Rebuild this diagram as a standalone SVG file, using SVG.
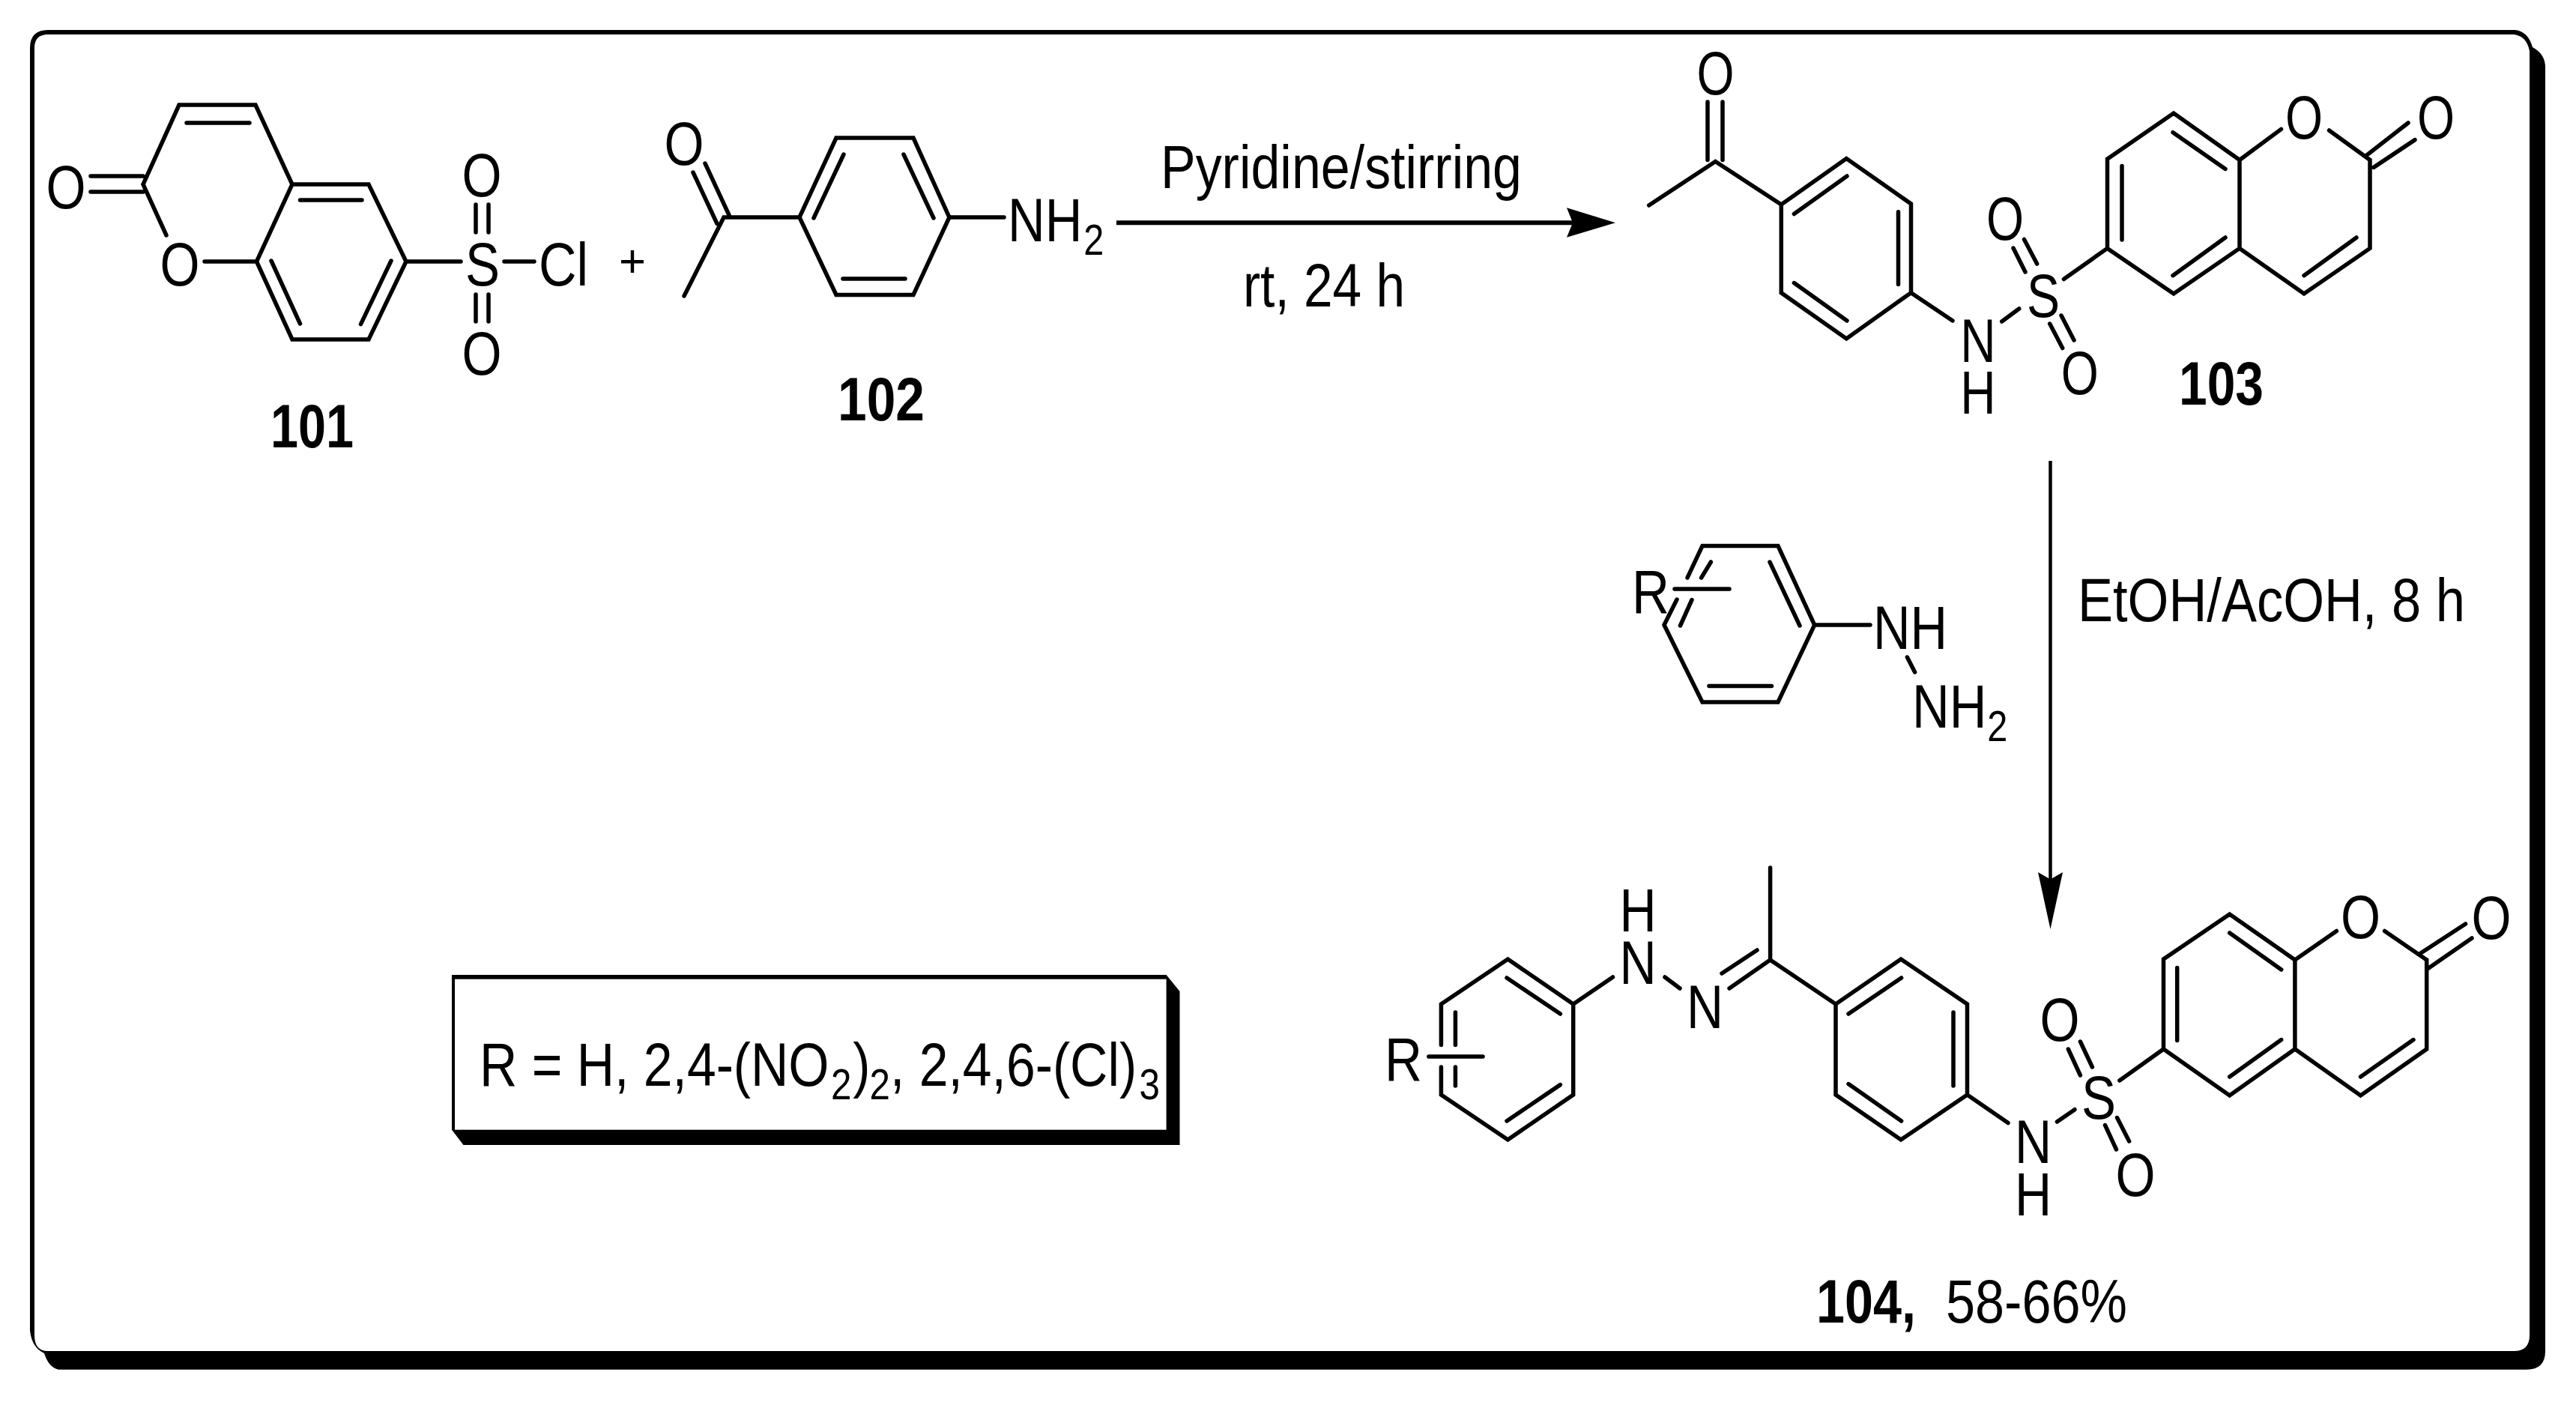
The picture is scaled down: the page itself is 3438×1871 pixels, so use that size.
<svg xmlns="http://www.w3.org/2000/svg" width="3438" height="1871" viewBox="0 0 3438 1871">
<style>
text{font-family:"Liberation Sans",Arial,sans-serif;font-size:82px;fill:#000}
.m{text-anchor:middle}
.bd{font-weight:700}
.sub{font-size:58px}
.plus{font-size:62px}
.b{fill:none;stroke:#000;stroke-width:5.5;stroke-linecap:round;stroke-linejoin:miter}
.ln{fill:none;stroke:#000;stroke-width:6}
.f{fill:#000;stroke:none}
</style>
<rect width="3438" height="1871" fill="#fff"/>
<g id="frame">
<path class="f" d="M64,40H3357Q3374,42 3380,63Q3397,72 3397,90V1803Q3397,1827.7 3372,1827.7H78Q65,1825 59,1806Q42,1798 40,1775V64Q40,40 64,40Z"/>
<path fill="#fff" d="M64,46H3355Q3372,48 3376,68V1782Q3376,1803 3355,1803H64Q46,1803 46,1782V64Q46,46 64,46Z"/>
</g>
<g id="compound-101">
<path class="b" d="M273,349H342.5L390,246L341,140H239L191,246L222,314M390,246H492L542,349L492,453H390L342.5,349M249,164H333M400.5,267H483M362,348L400.5,432M522,348L481.5,432.6M121,235H191M121,256H191M542,349H615M673,349H713M635,273V310M652,273V310M635,393V429M652,393V429"/>
<text class="m" x="88" y="278" textLength="53" lengthAdjust="spacingAndGlyphs">O</text>
<text class="m" x="240" y="381" textLength="53" lengthAdjust="spacingAndGlyphs">O</text>
<text class="m" x="644" y="381" textLength="46" lengthAdjust="spacingAndGlyphs">S</text>
<text class="m" x="643" y="262" textLength="53" lengthAdjust="spacingAndGlyphs">O</text>
<text class="m" x="643" y="500" textLength="53" lengthAdjust="spacingAndGlyphs">O</text>
<text x="719" y="381" textLength="66" lengthAdjust="spacingAndGlyphs">Cl</text>
<text class="bd" x="361" y="597" textLength="111" lengthAdjust="spacingAndGlyphs">101</text>
</g>
<g id="plus"><text class="plus m" x="844" y="369" textLength="36" lengthAdjust="spacingAndGlyphs">+</text></g>
<g id="compound-102">
<path class="b" d="M925,230L957,298.5M941,218L973,287M913,395L966,290H1067L1116,184H1219L1267,290L1219,393.4H1116L1067,290M1126,206L1086,291M1206,206L1246,291M1125,372H1208M1267,290H1340"/>
<text class="m" x="913" y="220" textLength="53" lengthAdjust="spacingAndGlyphs">O</text>
<text transform="translate(1345,322) scale(.84,1)">NH<tspan class="sub" dx="2" dy="18">2</tspan></text>
<text class="bd" x="1118" y="561" textLength="116" lengthAdjust="spacingAndGlyphs">102</text>
</g>
<g id="compound-103">
<path class="b" d="M2279,136V213.5M2299,136V213.5M2200.7,274L2289.4,215.5L2377.3,273L2464.3,211.5L2550.5,272V390.7L2464.3,452L2377.3,390.7V273M2394.4,285.5L2465,235M2533.5,282.7V379.6M2394.4,377.6L2465,428M2550.5,390.7L2606,428M2671.7,429L2694.7,412M2701.5,319.5L2718.6,352M2687,331L2703,363M2751,421L2768,454M2735.7,432L2752.7,464.6M2754.4,372.5L2812.5,331.4V212.3L2901,151L2989,213.5V331.4L2901,392L2812.5,331.4M2832,221.4V320M2900,176.7L2970,225.4M2970,317L2900,367.7M2989,213.5L3044.5,172.4M3108.5,174L3163,213.5V331.4L3075,392L2989,331.4M3145,317L3075,367.7M3158,207.6L3214,164M3168,223.4L3223,186.6"/>
<text class="m" x="2289.4" y="125.5" textLength="50" lengthAdjust="spacingAndGlyphs">O</text>
<text class="m" transform="translate(2640,483) scale(.8,1)">N<tspan x="0" dy="69">H</tspan></text>
<text class="m" x="2727" y="423" textLength="44" lengthAdjust="spacingAndGlyphs">S</text>
<text class="m" x="2676" y="320" textLength="50" lengthAdjust="spacingAndGlyphs">O</text>
<text class="m" x="2775.8" y="526" textLength="50" lengthAdjust="spacingAndGlyphs">O</text>
<text class="m" x="3075" y="185" textLength="50" lengthAdjust="spacingAndGlyphs">O</text>
<text class="m" x="3251" y="185" textLength="50" lengthAdjust="spacingAndGlyphs">O</text>
<text class="bd" x="2908" y="540" textLength="113" lengthAdjust="spacingAndGlyphs">103</text>
</g>
<g id="phenylhydrazine">
<path class="b" d="M2235,786H2308M2221,834L2238,800M2252,771L2272,728.5H2373L2421.7,834L2373,937H2272L2221,834M2242.5,835L2258,800.5M2270.6,771L2283.4,750M2362,750L2402,835M2281,915.5H2364.5M2421.7,834H2496M2545.4,877L2555.6,897"/>
<text x="2178" y="818" textLength="50" lengthAdjust="spacingAndGlyphs">R</text>
<text x="2500" y="865.7" textLength="99" lengthAdjust="spacingAndGlyphs">NH</text>
<text transform="translate(2552,971) scale(.84,1)">NH<tspan class="sub" dx="1" dy="18">2</tspan></text>
</g>
<g id="compound-104">
<path class="b" d="M1923.4,1340V1394.6M1923.4,1424V1461L2012.4,1521L2099.7,1461V1340L2012.4,1280L1923.4,1340M1942.4,1351V1394.6M1942.4,1424V1449M1906.8,1410H1979M2011,1305L2082.4,1353M2082.4,1447.6L2011,1496M2099.7,1340L2152.5,1304M2222,1304L2242,1319M2308,1319L2362.6,1281M2298,1299L2345,1268M2362.6,1158V1281L2450,1340L2537,1280L2625.5,1340V1461L2537,1521L2450,1461V1340M2467,1353L2537.6,1305M2607,1351V1449M2467,1446.6L2537.6,1496M2625.5,1461L2680,1498.6M2745.4,1497L2769,1480.7M2776.4,1390L2792.4,1424M2760.3,1400L2776.4,1435M2825.5,1491.5L2841.6,1523M2809.5,1501.5L2824.5,1534M2828.8,1442L2887.5,1400V1280L2975.7,1220L3062.9,1281V1400L2975.7,1462L2887.5,1400M2905.7,1291.6V1388.5M2975.7,1245L3044.7,1294M3044.7,1387.6L2975.7,1437M3062.9,1281L3118.4,1242.5M3182.6,1242.5L3238.7,1281V1400L3150.5,1462L3062.9,1400M3221,1387.6L3150.5,1437M3230.7,1272L3290.5,1233M3239.8,1293L3299,1252"/>
<text x="1848" y="1442" textLength="50" lengthAdjust="spacingAndGlyphs">R</text>
<text class="m" transform="translate(2186,1243) scale(.83,1)">H<tspan x="0" dy="70">N</tspan></text>
<text class="m" x="2275.5" y="1372" textLength="49" lengthAdjust="spacingAndGlyphs">N</text>
<text class="m" transform="translate(2713.5,1552) scale(.83,1)">N<tspan x="0" dy="70">H</tspan></text>
<text class="m" x="2801" y="1493" textLength="46" lengthAdjust="spacingAndGlyphs">S</text>
<text class="m" x="2749" y="1389" textLength="53" lengthAdjust="spacingAndGlyphs">O</text>
<text class="m" x="2850" y="1596" textLength="53" lengthAdjust="spacingAndGlyphs">O</text>
<text class="m" x="3150.4" y="1252" textLength="53" lengthAdjust="spacingAndGlyphs">O</text>
<text class="m" x="3325" y="1253" textLength="53" lengthAdjust="spacingAndGlyphs">O</text>
<text class="bd" x="2424" y="1765" textLength="133" lengthAdjust="spacingAndGlyphs">104,</text>
<text x="2597" y="1765" textLength="242" lengthAdjust="spacingAndGlyphs">58-66%</text>
</g>
<g id="r-box">
<path class="f" d="M603,1301H1556.6L1574.5,1323V1528H618.5L603,1507.7Z"/>
<rect x="607" y="1306.7" width="949.6" height="201" fill="#fff"/>
<text transform="translate(640,1449) scale(.85,1)">R = H, 2,4-(NO<tspan class="sub" dx="3" dy="17.7">2</tspan><tspan dx="2" dy="-17.7">)</tspan><tspan class="sub" dx="-1" dy="17.7">2</tspan><tspan dy="-17.7">, 2,4,6-(Cl)</tspan><tspan class="sub" dx="4" dy="17.7">3</tspan></text>
</g>
<g id="connectors">
<path class="ln" d="M1490,297.3H2100"/>
<path class="f" d="M2156,297.3L2091,277.3L2099,297.3L2091,316.7Z"/>
<path class="ln" style="stroke-width:4.5" d="M2736.5,615V1175"/>
<path class="f" d="M2736.5,1240L2720,1164L2736.5,1173.5L2753,1164Z"/>
<text x="1549" y="251" textLength="482" lengthAdjust="spacingAndGlyphs">Pyridine/stirring</text>
<text x="1659" y="409" textLength="216" lengthAdjust="spacingAndGlyphs">rt, 24 h</text>
<text x="2773" y="829" textLength="517" lengthAdjust="spacingAndGlyphs">EtOH/AcOH, 8 h</text>
</g>
</svg>
